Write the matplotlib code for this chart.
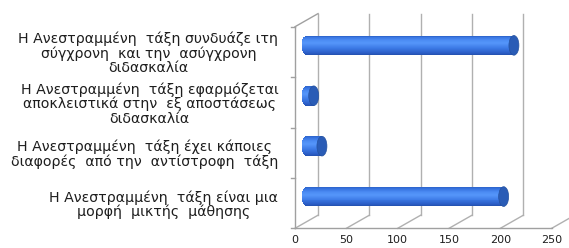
import numpy as np
import matplotlib.pyplot as plt
from matplotlib.patches import Ellipse
from matplotlib.colors import to_rgb

# ---- data ------------------------------------------------------------------
categories = [
    "Η Ανεστραμμένη  τάξη είναι μια\nμορφή  μικτής  μάθησης",
    "Η Ανεστραμμένη  τάξη έχει κάποιες\nδιαφορές  από την  αντίστροφη  τάξη",
    "Η Ανεστραμμένη  τάξη εφαρμόζεται\nαποκλειστικά στην  εξ αποστάσεως\nδιδασκαλία",
    "Η Ανεστραμμένη  τάξη συνδυάζε ιτη\nσύγχρονη  και την  ασύγχρονη\nδιδασκαλία",
]
values = [192, 15, 7, 202]
xticks = [0, 50, 100, 150, 200, 250]

# ---- style -----------------------------------------------------------------
DX, DY = 22.4, 0.26          # 3-D depth offset, in data units
BAR_H = 0.39                 # cylinder thickness (category units)
CAP_W = 9.7                  # end-cap width (value units)
N_STRIPS = 20
GRID_C = "#b0b0b0"
AXIS_C = "#a0a0a0"
CAP_C = "#2a5cb6"
TEXT_C = "#1e1e1e"

grad_t = [-1.0, -0.8, -0.3, 0.2, 0.5, 0.85, 1.0]
grad_c = ["#2350ad", "#2b5dc6", "#3c7ae6", "#5596fa", "#4b8bf3", "#3470dc", "#2c62c8"]
grad_rgb = np.array([to_rgb(c) for c in grad_c])


def shade(t):
    return tuple(np.interp(t, grad_t, grad_rgb[:, k]) for k in range(3))


fig = plt.figure(figsize=(5.69, 2.48), dpi=100)
ax = fig.add_axes([0.5185, 0.0794, 0.4511, 0.8129])
ax.set_xlim(0, 250)
ax.set_ylim(-0.5, 3.5)
for s in ax.spines.values():
    s.set_visible(False)

y0, y1 = -0.5, 3.5

# back wall gridlines + floor slants
for x in xticks:
    ax.plot([x + DX, x + DX], [y0 + DY, y1 + DY], color=GRID_C, lw=1.0,
            clip_on=False, zorder=1)
    ax.plot([x, x + DX], [y0, y0 + DY], color=GRID_C, lw=1.0,
            clip_on=False, zorder=1)

# front left wall edge, top slant, floor front edge
ax.plot([0, 0], [y0, y1], color=AXIS_C, lw=1.0, clip_on=False, zorder=1)
ax.plot([0, DX], [y1, y1 + DY], color=AXIS_C, lw=1.0, clip_on=False, zorder=1)
ax.plot([0, 250], [y0, y0], color=AXIS_C, lw=1.0, clip_on=False, zorder=1)
for yb in np.arange(y0, y1 + 0.01, 1.0):
    ax.plot([-3.9, 0], [yb, yb], color=AXIS_C, lw=1.0, clip_on=False, zorder=1)

# cylinders, drawn at mid depth
ys = np.arange(len(values))
edges = np.linspace(-1, 1, N_STRIPS + 1)
for yi, v in zip(ys, values):
    cy = yi + DY / 2
    bx = DX / 2
    for k in range(N_STRIPS):
        t = (edges[k] + edges[k + 1]) / 2
        half = CAP_W / 2 * np.sqrt(max(0.0, 1 - t * t))
        ax.barh(cy + t * BAR_H / 2, v + half, height=BAR_H / N_STRIPS,
                left=bx - half, color=shade(t), linewidth=0,
                antialiased=False, zorder=3)
    ax.add_patch(Ellipse((bx + v, cy), CAP_W, BAR_H, facecolor=CAP_C,
                         edgecolor="#24519f", lw=0.5, zorder=4))

ax.set_xticks(xticks)
ax.set_xticklabels([str(x) for x in xticks], fontsize=8,
                   family="DejaVu Sans", color=TEXT_C)
ax.set_yticks(ys)
ax.set_yticklabels(categories, fontsize=10.2, family="DejaVu Sans",
                   color=TEXT_C, linespacing=1.02)
for lbl in ax.get_yticklabels():
    lbl.set_multialignment("center")
ax.tick_params(axis="both", length=0)
ax.tick_params(axis="x", pad=5)
ax.tick_params(axis="y", pad=12)

fig.savefig("out.png", dpi=100)
